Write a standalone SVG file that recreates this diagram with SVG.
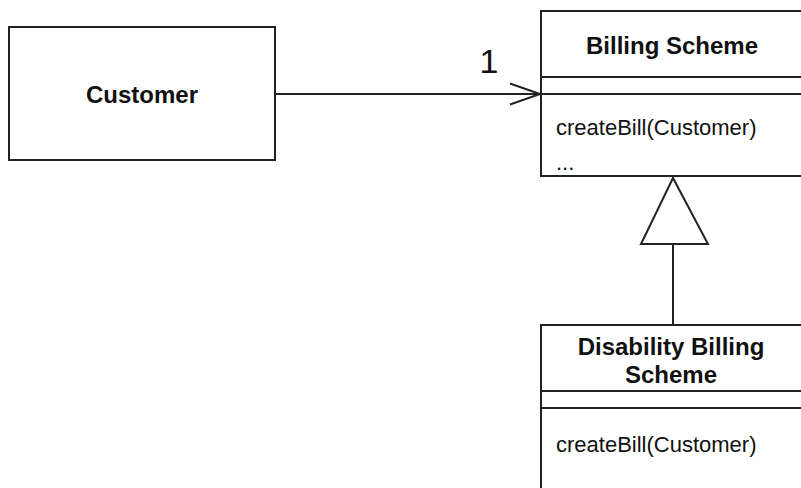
<svg xmlns="http://www.w3.org/2000/svg" width="801" height="488" viewBox="0 0 801 488">
<style>
.box{fill:#fff;stroke:#222;stroke-width:2}
.ln{stroke:#222;stroke-width:2;fill:none}
.t{font-family:"Liberation Sans",Arial,sans-serif;fill:#111}
.b{font-weight:bold;font-size:24px;text-anchor:middle}
.r{font-size:22px}
</style>
<rect width="801" height="488" fill="#fff"/>
<g id="customer">
<rect class="box" x="9" y="27" width="266" height="133"/>
<text class="t b" x="142" y="103">Customer</text>
</g>
<g id="billing-scheme">
<rect class="box" x="541" y="11" width="290" height="165"/>
<line class="ln" x1="541" y1="77" x2="831" y2="77"/>
<line class="ln" x1="541" y1="94" x2="831" y2="94"/>
<text class="t b" x="672" y="54">Billing Scheme</text>
<text class="t r" x="556" y="135">createBill(Customer)</text>
<text class="t r" x="556" y="170">...</text>
</g>
<g id="disability-billing-scheme">
<rect class="box" x="541" y="325" width="290" height="200"/>
<line class="ln" x1="541" y1="391" x2="831" y2="391"/>
<line class="ln" x1="541" y1="408" x2="831" y2="408"/>
<text class="t b" x="671" y="355">Disability Billing</text>
<text class="t b" x="671" y="383">Scheme</text>
<text class="t r" x="556" y="452">createBill(Customer)</text>
</g>
<g id="connectors">
<line class="ln" x1="275" y1="94" x2="540" y2="94"/>
<polyline class="ln" points="510,83.5 540,94 510,104.5"/>
<text class="t" x="489" y="73" font-size="34" text-anchor="middle">1</text>
<line class="ln" x1="673" y1="244" x2="673" y2="325"/>
<polygon class="ln" fill="#fff" points="673,178 708,244 641,244" style="fill:#fff"/>
</g>
</svg>
